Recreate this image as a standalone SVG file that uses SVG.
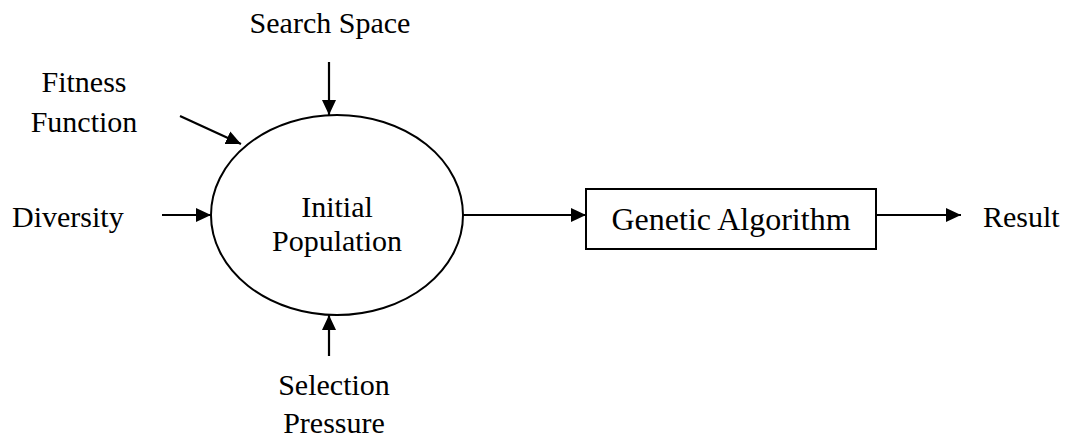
<svg xmlns="http://www.w3.org/2000/svg" width="1066" height="438" viewBox="0 0 1066 438">
  <style>
    text { font-family: "Liberation Serif", "Times New Roman", serif; fill: #000; font-size: 30px; }
    .mid { text-anchor: middle; }
    .big { font-size: 32px; }
    .shape { fill: #fff; stroke: #000; stroke-width: 2; }
    .link { stroke: #000; stroke-width: 2.2; fill: none; marker-end: url(#head); }
  </style>
  <defs>
    <marker id="head" viewBox="0 0 15 14" refX="15" refY="7" markerWidth="15" markerHeight="14" markerUnits="userSpaceOnUse" orient="auto">
      <path d="M0,0 L15,7 L0,14 Z" fill="#000"/>
    </marker>
  </defs>

  <rect width="1066" height="438" fill="#fff"/>

  <!-- connectors -->
  <g id="connectors">
    <line class="link" x1="329" y1="62" x2="329" y2="115"/>
    <line class="link" x1="180" y1="116" x2="241" y2="144"/>
    <line class="link" x1="162" y1="215" x2="211" y2="215"/>
    <line class="link" x1="329" y1="356" x2="329" y2="315"/>
    <line class="link" x1="463" y1="215" x2="586" y2="215"/>
    <line class="link" x1="876" y1="215" x2="961" y2="215"/>
  </g>

  <!-- central population node -->
  <g id="initial-population">
    <ellipse class="shape" cx="337" cy="215" rx="126" ry="100"/>
    <text class="mid" x="337" y="217">Initial</text>
    <text class="mid" x="337" y="251">Population</text>
  </g>

  <g id="genetic-algorithm">
    <rect class="shape" x="586" y="189" width="290" height="60"/>
    <text class="mid big" x="731" y="230">Genetic Algorithm</text>
  </g>

  <g id="search-space">
    <text class="mid" x="330" y="33">Search Space</text>
  </g>

  <g id="fitness-function">
    <text class="mid" x="84" y="92">Fitness</text>
    <text class="mid" x="84" y="132">Function</text>
  </g>

  <g id="diversity">
    <text x="12" y="227">Diversity</text>
  </g>

  <g id="selection-pressure">
    <text class="mid" x="334" y="395">Selection</text>
    <text class="mid" x="334" y="433">Pressure</text>
  </g>

  <g id="result">
    <text x="983" y="227">Result</text>
  </g>
</svg>
